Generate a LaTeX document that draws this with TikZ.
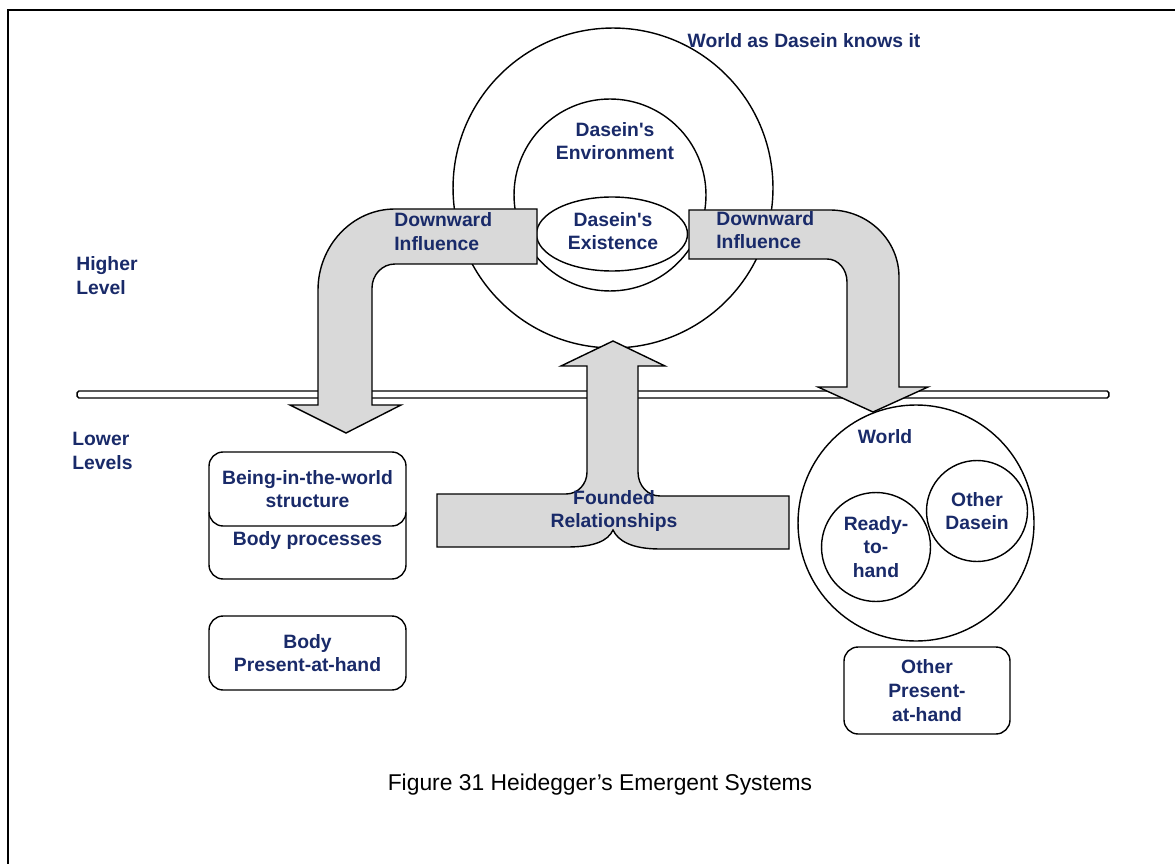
\documentclass[tikz,border=0pt]{standalone}
\usepackage{fontspec}
\setmainfont{Liberation Sans}
% label face without TeX quote mapping, so ' stays a straight apostrophe
\newfontfamily\labelfont{Liberation Sans}
\usetikzlibrary{shapes.geometric}
\definecolor{labelblue}{RGB}{25,42,105}
\definecolor{arrowgray}{RGB}{217,217,217}

\begin{document}
\begin{tikzpicture}[x=0.02cm,y=-0.02cm,
  lbl/.style={font=\labelfont\bfseries\fontsize{11}{13.5}\selectfont, text=labelblue, align=center, inner sep=0pt},
  leftlbl/.style={lbl, align=left, anchor=west},
  outline/.style={draw=black, line width=0.8pt},
  block/.style={outline, fill=arrowgray, line join=miter},
  box/.style={outline, fill=white, rounded corners=8pt, minimum width=3.94cm, lbl},
  ring/.style={outline, circle, fill=white, inner sep=0pt, lbl},
]
\useasboundingbox (0,0) rectangle (1175,864);

% page frame
\draw[line width=1.2pt] (8,870) -- (8,10) -- (1180,10);

% the world as Dasein knows it, with environment and existence
\node[ring, minimum size=6.4cm] (known) at (613,188) {};
\node[ring, minimum size=3.84cm] (env) at (610,195) {};
\node[outline, ellipse, fill=white, inner sep=0pt, minimum width=3.02cm, minimum height=1.48cm] (exist) at (612,234) {};

% level divider
\node[outline, fill=white, rounded corners=1pt, inner sep=0pt, minimum width=20.64cm, minimum height=0.14cm] (divider) at (593,394.5) {};

% left bent arrow: downward influence
\draw[block] (537,209) -- (395,209)
  .. controls (352,209) and (318,246) .. (318,290)
  -- (318,405) -- (290,405) -- (346,433) -- (401,405) -- (372,405)
  -- (372,288) .. controls (372,275) and (382,264) .. (395,264)
  -- (537,264) -- cycle;

% right bent arrow: downward influence
\draw[block] (689,210) -- (830,210)
  .. controls (868,210) and (899,240) .. (899,277)
  -- (899,387) -- (928,387) -- (873,412) -- (818,387) -- (847,387)
  -- (847,282) .. controls (847,269) and (838,259) .. (827,259)
  -- (689,259) -- cycle;

% upward arrow: founded relationships
\draw[block] (613,341) -- (665,366) -- (638,366) -- (638,472)
  .. controls (638,486) and (648,496) .. (660,496)
  -- (789,496) -- (789,549) -- (660,549)
  .. controls (632,549) and (618,541) .. (613,530)
  .. controls (608,541) and (594,547) .. (567,547)
  -- (437,547) -- (437,494) -- (566,494)
  .. controls (578,494) and (587,484) .. (587,472)
  -- (587,366) -- (561,366) -- cycle;
\draw[gray!30, line width=0.4pt, rounded corners=2pt] (588,479) rectangle (610,532);

% the world with its entities
\node[ring, minimum size=4.72cm] (world) at (916,523) {};
\node[ring, minimum size=2.18cm] (ready) at (876,547) {Ready-\\to-\\hand};
\node[ring, minimum size=2.02cm] (others) at (977,511) {Other\\Dasein};

% lower level boxes
\node[box, minimum height=1.54cm] (bodyproc) at (307.5,540.5) {Body processes};
\node[box, minimum height=1.48cm] (bitw) at (307.5,489) {Being-in-the-world\\structure};
\node[box, minimum height=1.48cm] (bodypah) at (307.5,653) {Body\\Present-at-hand};
\node[box, minimum width=3.32cm, minimum height=1.74cm] (otherpah) at (927,690.5) {Other\\Present-\\at-hand};

% labels
\node[lbl] (knownlbl) at (804,41) {World as Dasein knows it};
\node[lbl] (envlbl) at (615,141) {Dasein's\\Environment};
\node[lbl] (existlbl) at (613,231) {Dasein's\\Existence};
\node[leftlbl] (downl) at (394,231.5) {Downward\\Influence};
\node[leftlbl] (downr) at (716,230) {Downward\\Influence};
\node[lbl] (founded) at (614,511) {Founded\\Relationships};
\node[lbl] (worldlbl) at (885,437) {World};
\node[leftlbl] (higher) at (76,275.5) {Higher\\Level};
\node[leftlbl] (lower) at (72,451) {Lower\\Levels};

% caption
\node[font=\fontsize{13}{15}\selectfont, inner sep=0pt] (caption) at (600,785) {Figure 31 Heidegger’s Emergent Systems};
\end{tikzpicture}
\end{document}
